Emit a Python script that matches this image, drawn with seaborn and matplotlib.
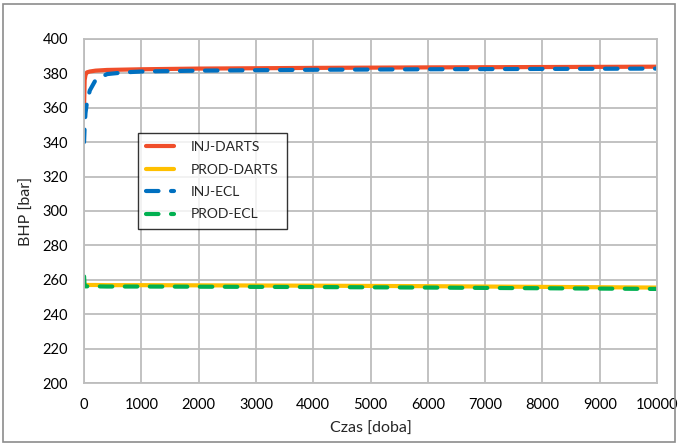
import matplotlib
matplotlib.use("Agg")
import matplotlib.pyplot as plt
from matplotlib.patches import Rectangle
import seaborn as sns
import pandas as pd

# ---- data ----
time = [0, 10, 25, 50, 100, 200, 400, 700, 1000, 2000, 4000, 6000, 8000, 10000]
inj_darts = [360, 376, 379, 380.5, 381, 381.5, 381.9, 382.1, 382.3, 382.7, 383.1, 383.4, 383.6, 383.8]
prod_darts = [257, 257, 257, 257, 257, 257, 256.9, 256.9, 256.9, 256.8, 256.6, 256.3, 255.9, 255.5]
inj_ecl = [340, 349, 357, 363, 370, 376, 379.5, 380.5, 381, 381.5, 382.0, 382.3, 382.5, 382.7]
prod_ecl = [262, 256.3, 256.2, 256.2, 256.2, 256.2, 256.1, 256.1, 256.1, 256.0, 255.8, 255.5, 255.1, 254.7]

series_names = ["INJ-DARTS", "PROD-DARTS", "INJ-ECL", "PROD-ECL"]
series_values = [inj_darts, prod_darts, inj_ecl, prod_ecl]
colors = ["#F04E2A", "#FFC000", "#0070C0", "#00B050"]
dashed = [False, False, True, True]

xticks = list(range(0, 10001, 1000))
yticks = list(range(200, 401, 20))

sns.set_theme(style="white")
plt.rcParams["font.family"] = ["Lato", "DejaVu Sans"]

fig = plt.figure(figsize=(6.78, 4.46), dpi=100)
ax = fig.add_axes([0.124, 0.141, 0.845, 0.772])

for name, vals, c, d in zip(series_names, series_values, colors, dashed):
    df = pd.DataFrame({"t": time, "v": vals})
    sns.lineplot(data=df, x="t", y="v", ax=ax, color=c, lw=3.0, label=name)
    l = ax.get_lines()[-1]
    if d:
        l.set_dashes([3.0, 3.0])
        l.set_dash_capstyle("round")

ax.set_xlim(0, 10000)
ax.set_ylim(200, 400)
ax.set_xticks(xticks)
ax.set_yticks(yticks)
ax.tick_params(axis="y", labelsize=10.5, colors="#000000", length=0, pad=11.5)
ax.tick_params(axis="x", labelsize=10.5, colors="#000000", length=0, pad=11)
ax.grid(True, color="#BDBDBD", lw=1.3)
ax.set_axisbelow(True)
for s in ax.spines.values():
    s.set_color("#BDBDBD")
    s.set_linewidth(1.3)
ax.set_xlabel("Czas [doba]", fontsize=11.5, labelpad=7)
ax.set_ylabel("BHP [bar]", fontsize=11.5, labelpad=6)

leg = ax.legend(loc="upper left", bbox_to_anchor=(0.094, 0.727), fontsize=10,
                frameon=True, fancybox=False, edgecolor="#000000",
                handlelength=2.0, borderpad=0.6, labelspacing=0.75,
                handletextpad=1.2, borderaxespad=0)
leg.get_frame().set_linewidth(1.0)

fig.patches.append(Rectangle((0.004, 0.008), 0.992, 0.984, transform=fig.transFigure,
                             fill=False, edgecolor="#8C8C8C", lw=1.2))

fig.savefig("out.png", dpi=100)
